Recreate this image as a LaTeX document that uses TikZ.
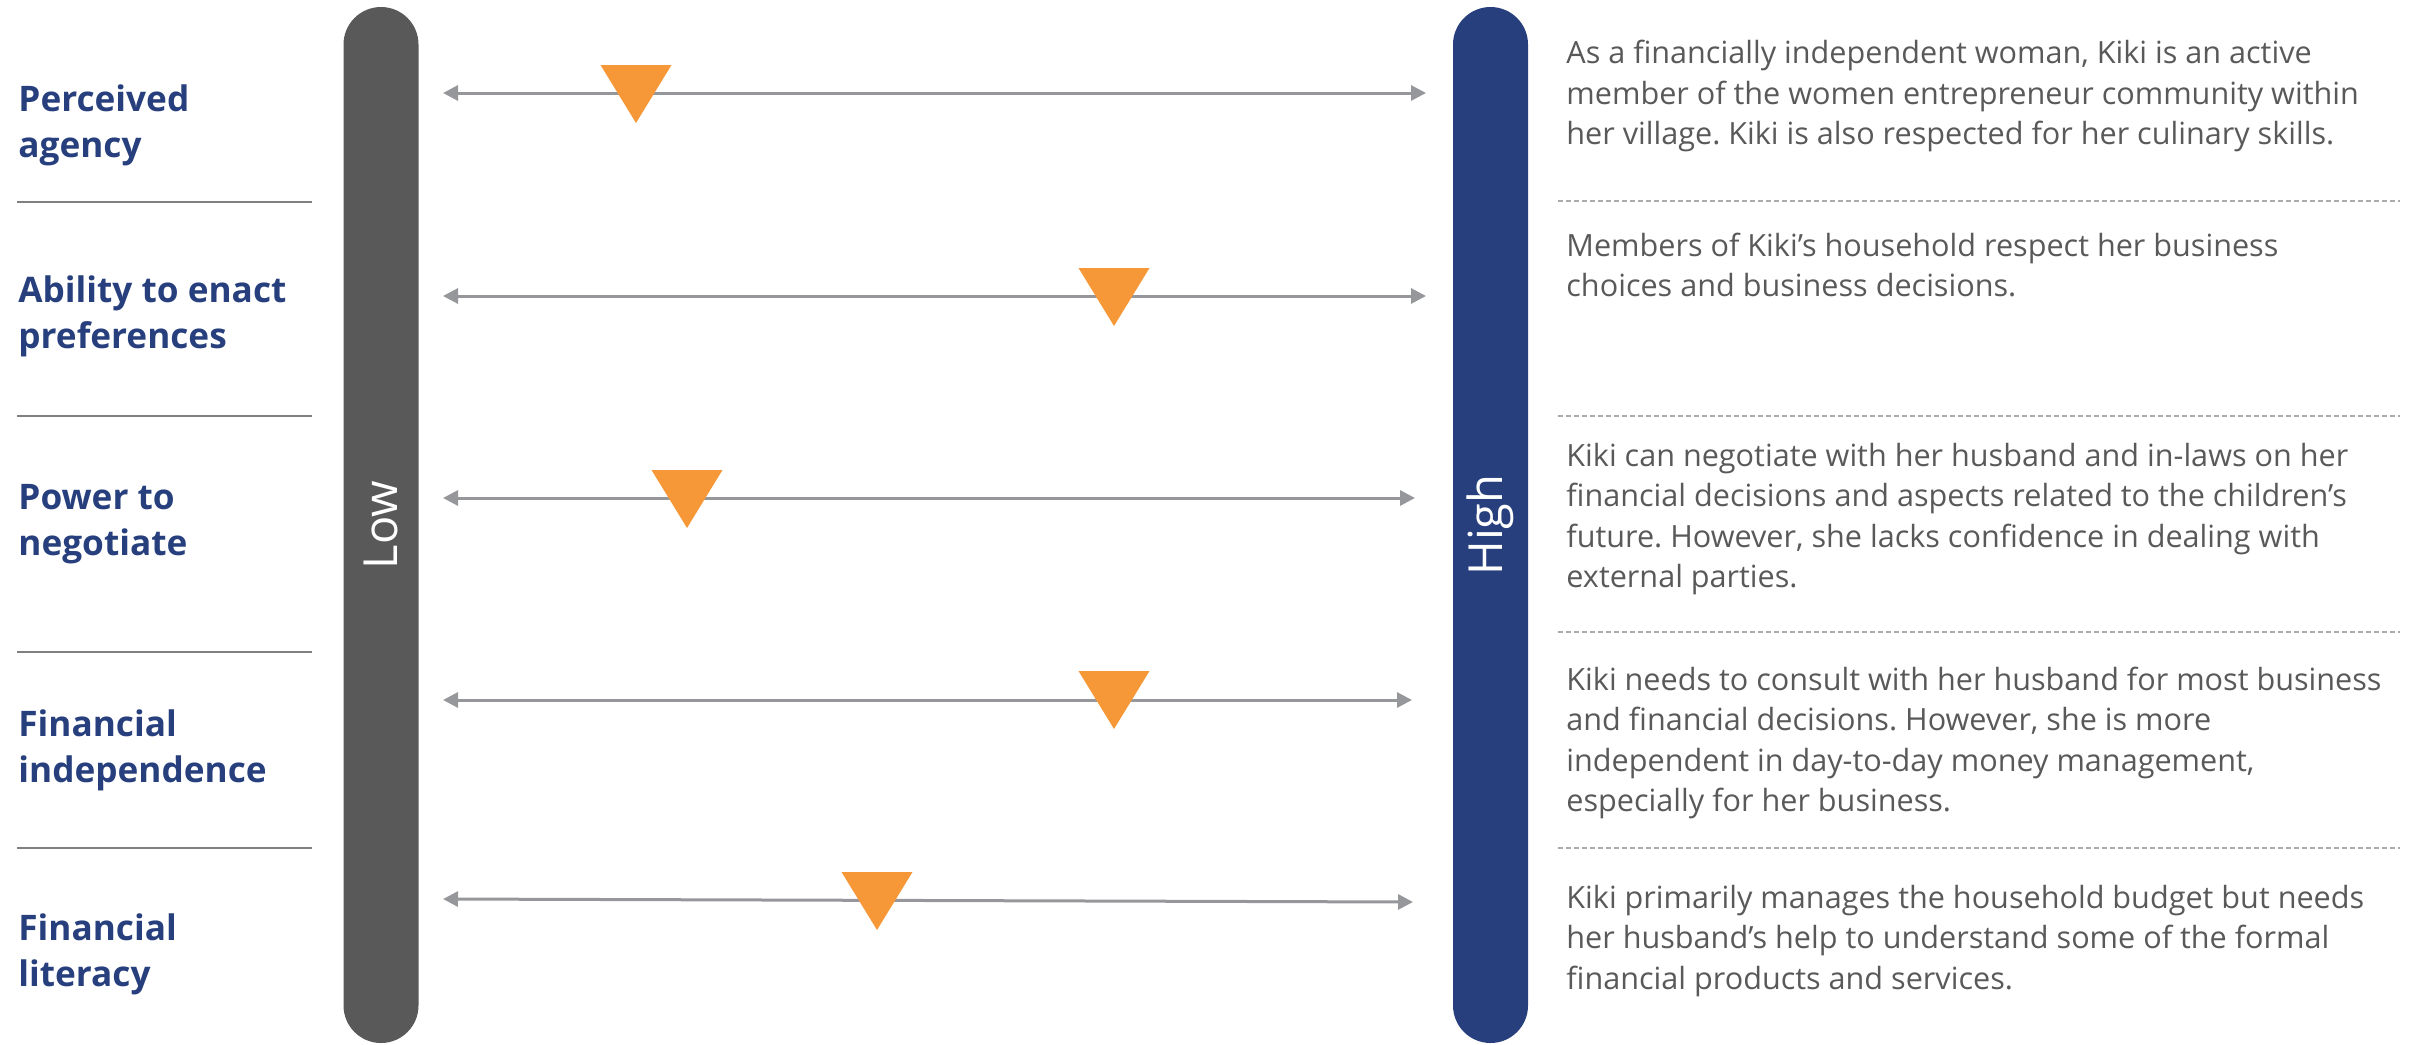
\documentclass[tikz,border=0pt]{standalone}
\usepackage{fontspec}
\setmainfont{Open Sans}
\usetikzlibrary{arrows.meta}
\frenchspacing

\definecolor{lowgray}{RGB}{89,89,89}
\definecolor{highblue}{RGB}{39,64,125}
\definecolor{markorange}{RGB}{247,152,56}
\definecolor{rangegray}{RGB}{150,151,155}
\definecolor{rulegray}{RGB}{128,128,128}
\definecolor{dotgray}{RGB}{170,170,170}
\definecolor{bodygray}{RGB}{89,89,89}

\tikzset{
  levelbar/.style={rectangle, rounded corners=18.75pt, minimum width=518pt,
    minimum height=37.5pt, inner sep=0pt, text=white,
    font=\fontsize{23.5}{28}\selectfont, rotate=90},
  dimlabel/.style={anchor=west, align=left, inner sep=0pt, text=highblue,
    font=\fontsize{17.6}{23}\selectfont\bfseries},
  notetext/.style={anchor=west, align=left, inner sep=0pt, text=bodygray,
    font=\fontsize{15.3}{20.2}\selectfont},
  rangeline/.style={draw=rangegray, line width=1.5pt,
    {Triangle[length=7.5pt,width=7.5pt]}-{Triangle[length=7.5pt,width=7.5pt]}},
  kikimark/.style={fill=markorange},
  ruleline/.style={draw=rulegray, line width=1pt},
  dotline/.style={draw=dotgray, line width=0.8pt, dash pattern=on 2.5pt off 1.5pt}
}

\begin{document}
\begin{tikzpicture}[x=0.5pt, y=-0.5pt]
  \useasboundingbox (0,0) rectangle (2423,1044);
  % low / high bars
  \node[levelbar, fill=lowgray] (low) at (381,525) {Low};
  \node[levelbar, fill=highblue] (high) at (1490.5,525) {High};

  % dimensions on the left
  \node[dimlabel] (agency) at (18,125) {Perceived\\agency};
  \node[dimlabel] (enact) at (18,316) {Ability to enact\\preferences};
  \node[dimlabel] (negotiate) at (18,524) {Power to\\negotiate};
  \node[dimlabel] (independence) at (18,750) {Financial\\independence};
  \node[dimlabel] (literacy) at (18,954) {Financial\\literacy};
  \draw[ruleline] (17,202) -- (312,202);
  \draw[ruleline] (17,416) -- (312,416);
  \draw[ruleline] (17,652) -- (312,652);
  \draw[ruleline] (17,848) -- (312,848);

  % ranges
  \coordinate (r1a) at (443,93);  \coordinate (r1b) at (1426,93);
  \coordinate (r2a) at (443,296); \coordinate (r2b) at (1426,296);
  \coordinate (r3a) at (443,498); \coordinate (r3b) at (1415,498);
  \coordinate (r4a) at (443,700); \coordinate (r4b) at (1412,700);
  \coordinate (r5a) at (443,899); \coordinate (r5b) at (1413,902);
  \draw[rangeline] (r1a) -- (r1b);
  \draw[rangeline] (r2a) -- (r2b);
  \draw[rangeline] (r3a) -- (r3b);
  \draw[rangeline] (r4a) -- (r4b);
  \draw[rangeline] (r5a) -- (r5b);

  % where Kiki stands
  \fill[kikimark] (600.5,65) -- ++(71,0) -- ++(-35.5,58) -- cycle;
  \fill[kikimark] (1078.5,268) -- ++(71,0) -- ++(-35.5,58) -- cycle;
  \fill[kikimark] (651.5,470) -- ++(71,0) -- ++(-35.5,58) -- cycle;
  \fill[kikimark] (1078.5,671) -- ++(71,0) -- ++(-35.5,58) -- cycle;
  \fill[kikimark] (841.5,872) -- ++(71,0) -- ++(-35.5,58) -- cycle;

  % notes on the right
  \node[notetext] (note1) at (1566,96) {As a financially independent woman, Kiki is an active\\member of the women entrepreneur community within\\her village. Kiki is also respected for her culinary skills.};
  \node[notetext] (note2) at (1566,265) {Members of Kiki’s household respect her business\\choices and business decisions.};
  \node[notetext] (note3) at (1566,519) {Kiki can negotiate with her husband and in-laws on her\\financial decisions and aspects related to the children’s\\future. However, she lacks confidence in dealing with\\external parties.};
  \node[notetext] (note4) at (1566,743) {Kiki needs to consult with her husband for most business\\and financial decisions. However, she is more\\independent in day-to-day money management,\\especially for her business.};
  \node[notetext] (note5) at (1566,941) {Kiki primarily manages the household budget but needs\\her husband’s help to understand some of the formal\\financial products and services.};
  \draw[dotline] (1558,201) -- (2400,201);
  \draw[dotline] (1558,416) -- (2400,416);
  \draw[dotline] (1558,632) -- (2400,632);
  \draw[dotline] (1558,848) -- (2400,848);
\end{tikzpicture}
\end{document}
